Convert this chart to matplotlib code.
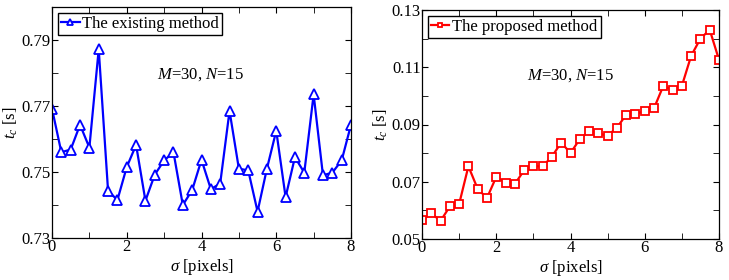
import numpy as np
import matplotlib.pyplot as plt
from matplotlib.ticker import MultipleLocator

plt.rcParams['font.family'] = 'Liberation Serif'
plt.rcParams['mathtext.fontset'] = 'custom'
plt.rcParams['mathtext.it'] = 'Liberation Serif:italic'
plt.rcParams['mathtext.rm'] = 'Liberation Serif'

sigma = np.arange(0, 8.01, 0.25)

t_existing = [0.7692, 0.7560, 0.7568, 0.7643, 0.7574, 0.7872, 0.7443, 0.7415,
              0.7515, 0.7582, 0.7413, 0.7492, 0.7535, 0.7560, 0.7400, 0.7445,
              0.7537, 0.7448, 0.7465, 0.7685, 0.7510, 0.7505, 0.7380, 0.7510,
              0.7625, 0.7424, 0.7545, 0.7498, 0.7735, 0.7490, 0.7498, 0.7535,
              0.7643]

t_proposed = [0.0565, 0.0590, 0.0563, 0.0614, 0.0622, 0.0754, 0.0675, 0.0643,
              0.0717, 0.0697, 0.0692, 0.0740, 0.0754, 0.0754, 0.0788, 0.0837,
              0.0800, 0.0849, 0.0877, 0.0869, 0.0861, 0.0889, 0.0934, 0.0938,
              0.0946, 0.0957, 0.1035, 0.1020, 0.1035, 0.1140, 0.1200, 0.1231,
              0.1126]

fig = plt.figure(figsize=(7.29, 2.80), dpi=100)
ax1 = fig.add_axes([52/729, 1-238/280, 299/729, 231/280])
ax2 = fig.add_axes([422/729, 1-239/280, 297/729, 229/280])

def style(ax, ylim, yticks):
    ax.set_xlim(0, 8)
    ax.set_ylim(*ylim)
    ax.xaxis.set_major_locator(MultipleLocator(2))
    ax.xaxis.set_minor_locator(MultipleLocator(1))
    ax.set_yticks(yticks)
    ax.yaxis.set_minor_locator(MultipleLocator(0.01))
    ax.yaxis.set_major_formatter(plt.FuncFormatter(lambda v, p: f'{v:.2f}'))
    ax.tick_params(which='both', direction='in', top=True, right=True,
                   labelsize=12, length=4, pad=1)
    ax.set_xlabel(r'$\sigma$ [pixels]', fontsize=12, labelpad=1)
    ax.set_ylabel(r'$t_c$ [s]', fontsize=12, labelpad=1)
    for s in ax.spines.values():
        s.set_linewidth(0.9)

leg_kw = dict(loc='upper left', fontsize=12, fancybox=False, edgecolor='black',
              framealpha=1, handlelength=1.1, handletextpad=0.15, borderpad=0.2,
              borderaxespad=0.35, markerscale=0.6)

ax1.plot(sigma, t_existing, color='blue', lw=1.6, marker='^', ms=7,
         mfc='white', mec='blue', mew=1.3, label='The existing method')
style(ax1, (0.73, 0.80), [0.73, 0.75, 0.77, 0.79])
ax1.text(3.96, 0.7795, r'$M$=30, $N$=15', ha='center', va='center', fontsize=12)
ax1.legend(**leg_kw)

ax2.plot(sigma, t_proposed, color='red', lw=1.6, marker='s', ms=5.5,
         mfc='white', mec='red', mew=1.3, label='The proposed method')
style(ax2, (0.05, 0.13), [0.05, 0.07, 0.09, 0.11, 0.13])
ax2.text(4.0, 0.1069, r'$M$=30, $N$=15', ha='center', va='center', fontsize=12)
ax2.legend(**leg_kw)

fig.savefig('out.png', dpi=100)
